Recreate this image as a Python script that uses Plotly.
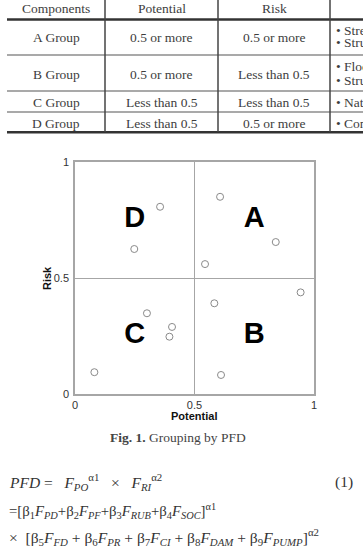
import plotly.graph_objects as go

W, H = 363, 558

# ---------------- data ----------------
potential = [0.356, 0.248, 0.607, 0.840, 0.544, 0.944, 0.583, 0.301, 0.406, 0.395, 0.081, 0.611]
risk = [0.807, 0.625, 0.850, 0.655, 0.560, 0.438, 0.391, 0.348, 0.289, 0.247, 0.094, 0.082]

quad_labels = ["A", "B", "C", "D"]
quad_x = [0.75, 0.75, 0.25, 0.25]
quad_y = [0.75, 0.25, 0.25, 0.75]

tick_vals = [0, 0.5, 1]
tick_text = ["0", "0.5", "1"]

table_header = ["Components", "Potential", "Risk"]
groups = ["A Group", "B Group", "C Group", "D Group"]
potential_cond = ["0.5 or more", "0.5 or more", "Less than 0.5", "Less than 0.5"]
risk_cond = ["0.5 or more", "Less than 0.5", "Less than 0.5", "0.5 or more"]
remarks = [["• Stream", "• Structure"], ["• Flood", "• Structure"], ["• Natural"], ["• Construction"]]

caption_bold = "Fig. 1."
caption_text = "Grouping by PFD"

NB = "\u00a0"
eq_lines = [
    "<i>PFD</i>" + NB + "=" + NB * 3 + "<i>F</i><sub><i>PO</i></sub><sup>α1</sup>" + NB * 3 + "×" + NB * 3
    + "<i>F</i><sub><i>RI</i></sub><sup>α2</sup>",
    "=[β<sub>1</sub><i>F</i><sub><i>PD</i></sub>+β<sub>2</sub><i>F</i><sub><i>PF</i></sub>+β<sub>3</sub><i>F</i><sub><i>RUB</i></sub>+β<sub>4</sub><i>F</i><sub><i>SOC</i></sub>]<sup>α1</sup>",
    "×" + NB * 2 + "[β<sub>5</sub><i>F</i><sub><i>FD</i></sub> + β<sub>6</sub><i>F</i><sub><i>PR</i></sub> + β<sub>7</sub><i>F</i><sub><i>CI</i></sub> + β<sub>8</sub><i>F</i><sub><i>DAM</i></sub> + β<sub>9</sub><i>F</i><sub><i>PUMP</i></sub>]<sup>α2</sup>",
]
eq_sizes = [15.5, 14.8, 15.5]
eq_number = "(1)"


def px(x):
    return x / W


def py(y):
    return 1 - y / H


SERIF = "Liberation Serif, Times New Roman, serif"
SANS = "Liberation Sans, Arial, sans-serif"
TXT = "#3d3d3d"

fig = go.Figure()
fig.add_trace(go.Scatter(
    x=potential, y=risk, mode="markers",
    marker=dict(symbol="circle-open", size=7, color="#8a8a8a", line=dict(width=1)),
    showlegend=False, hoverinfo="skip",
))
fig.add_trace(go.Scatter(
    x=quad_x, y=quad_y, mode="text", text=quad_labels,
    textfont=dict(family=SANS, size=29, color="#000000", weight="bold"),
    showlegend=False, hoverinfo="skip",
))

ax_common = dict(
    range=[0, 1], tickvals=tick_vals, ticktext=tick_text,
    showline=True, linecolor="#a6a6a6", linewidth=1.5, mirror=True,
    showgrid=True, gridcolor="#a6a6a6", gridwidth=1.2,
    zeroline=False, ticks="", automargin=False,
    tickfont=dict(family=SANS, size=11, color="#333333"), fixedrange=True,
)
fig.update_xaxes(domain=[px(75), px(314)], ticklabelstandoff=0, **ax_common)
fig.update_yaxes(domain=[py(394), py(162)], ticklabelstandoff=2, **ax_common)


def note(text, x, y, font, xanchor="center", **kw):
    return dict(text=text, x=px(x), y=py(y), xref="paper", yref="paper", showarrow=False,
                xanchor=xanchor, yanchor="middle", font=font, **kw)


ann = []
shapes = []
# axis titles
ann.append(note("<b>Potential</b>", 194, 416, dict(family=SANS, size=11, color="#111111")))
ann.append(note("<b>Risk</b>", 47, 278, dict(family=SANS, size=11, color="#111111"), textangle=-90))

# ---------- table ----------
col_x = [56, 161.5, 274]
header_y = 9
row_y = [37, 74, 102, 123]
rem_y = [[30.5, 42.5], [67, 80], [102], [123]]
tfont = dict(family=SERIF, size=13.5, color=TXT)
for cx, t in zip(col_x, table_header):
    ann.append(note(t, cx, header_y, tfont))
for i in range(len(groups)):
    for cx, t in zip(col_x, [groups[i], potential_cond[i], risk_cond[i]]):
        ann.append(note(t, cx, row_y[i], tfont))
    for t, yy in zip(remarks[i], rem_y[i]):
        ann.append(note(t, 334, yy, tfont, xanchor="left"))

# horizontal rules
for yy, lw, col in [(19.5, 2.5, "#333333"), (55, 1.2, "#555555"), (91, 1.2, "#555555"),
                    (112, 1.2, "#555555"), (132.3, 2.5, "#333333")]:
    shapes.append(dict(type="line", xref="paper", yref="paper", x0=px(7), x1=px(380),
                       y0=py(yy), y1=py(yy), line=dict(color=col, width=lw)))
# vertical separators
for xx in [105, 218, 330]:
    shapes.append(dict(type="line", xref="paper", yref="paper", x0=px(xx), x1=px(xx),
                       y0=py(-2), y1=py(132), line=dict(color="#444444", width=1.5)))

# ---------- caption ----------
ann.append(note("<b>" + caption_bold + "</b> " + caption_text, 178, 437,
                dict(family=SERIF, size=13.5, color="#444444")))

# ---------- equations ----------
eq_y = [482, 511, 537]
for t, yy, sz in zip(eq_lines, eq_y, eq_sizes):
    ann.append(note(t, 7, yy, dict(family=SERIF, size=sz, color="#333333"), xanchor="left"))
ann.append(note(eq_number, 355, 482, dict(family=SERIF, size=15.5, color="#333333"), xanchor="right"))

fig.update_layout(
    width=W, height=H, margin=dict(l=0, r=0, t=0, b=0),
    paper_bgcolor="white", plot_bgcolor="white",
    annotations=ann, shapes=shapes, template="none",
)
fig.write_html("out.html")
